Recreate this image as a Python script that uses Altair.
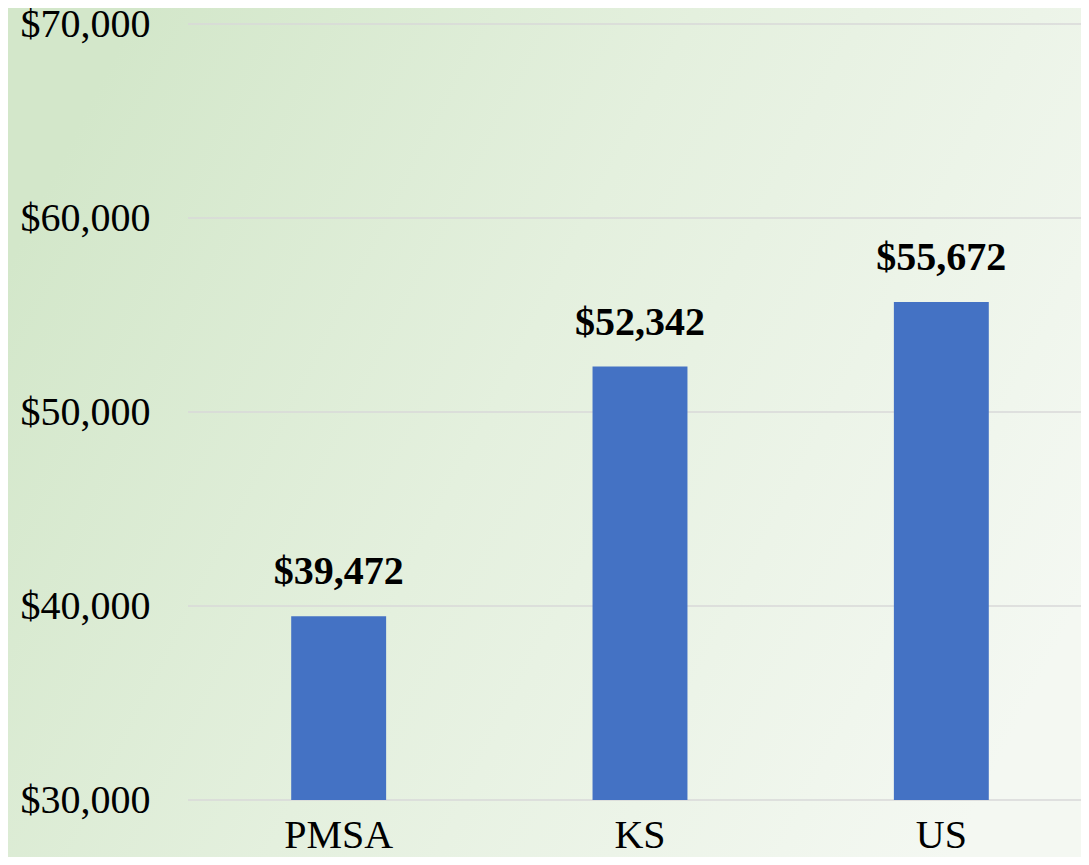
import altair as alt
import pandas as pd

categories = ["PMSA", "KS", "US"]
values = [39472, 52342, 55672]
y_ticks = [30000, 40000, 50000, 60000, 70000]

df = pd.DataFrame({"cat": categories, "val": values})
grid_df = pd.DataFrame({"tick": y_ticks})
bg_df = pd.DataFrame({"a": [0]})

W, H = 892, 776
PAD_L, PAD_T, PAD_R, PAD_B = 180, 16, 1, 57
BAND_RANGE = 904

grad = alt.LinearGradient(
    gradient="linear",
    stops=[
        alt.GradientStop(color="#d3e7ca", offset=0),
        alt.GradientStop(color="#e4f0de", offset=0.45),
        alt.GradientStop(color="#f4f8f2", offset=1),
    ],
    x1=0, y1=0.3, x2=1, y2=0.7,
)

bg = alt.Chart(bg_df).mark_rect(color=grad).encode(
    x=alt.value(-PAD_L), x2=alt.value(W + PAD_R),
    y=alt.value(-PAD_T), y2=alt.value(H + PAD_B),
)

yscale = alt.Scale(domain=[30000, 70000], zero=False, nice=False)
xscale = alt.Scale(paddingInner=0.685, paddingOuter=0.3425, range=[0, BAND_RANGE])

grid = alt.Chart(grid_df).mark_rule(color="#d9d9d9", strokeWidth=1.5).encode(
    y=alt.Y("tick:Q", scale=yscale),
    x=alt.value(0), x2=alt.value(W + PAD_R),
)

xenc = alt.X("cat:N", sort=categories, title=None, scale=xscale,
             axis=alt.Axis(labelAngle=0, labelFont="Liberation Serif", labelFontSize=40,
                           labelColor="#000000", labelPadding=15, domain=False, ticks=False,
                           grid=False, zindex=2))
yenc = alt.Y("val:Q", title=None, scale=yscale,
             axis=alt.Axis(values=y_ticks, format="$,.0f",
                           labelFont="Liberation Serif", labelFontSize=40, labelColor="#000000",
                           labelPadding=38, domain=False, ticks=False,
                           grid=False, zindex=2))

bars = alt.Chart(df).mark_bar(color="#4472C4").encode(
    x=xenc, y=yenc, y2=alt.datum(30000)
)

labels = alt.Chart(df).mark_text(
    font="Liberation Serif", fontSize=40, fontWeight="bold", color="#000000",
    baseline="alphabetic", dy=-32
).encode(
    x=alt.X("cat:N", sort=categories),
    y="val:Q",
    text=alt.Text("val:Q", format="$,.0f"),
)

chart = alt.layer(bg, grid, bars, labels).properties(
    width=W, height=H,
    autosize=alt.AutoSizeParams(type="none"),
    padding={"left": PAD_L, "top": PAD_T, "right": PAD_R, "bottom": PAD_B},
    background="#f4f8f2",
).configure_view(stroke=None)

chart.save("out.html", embed_options={"renderer": "svg", "actions": False})
